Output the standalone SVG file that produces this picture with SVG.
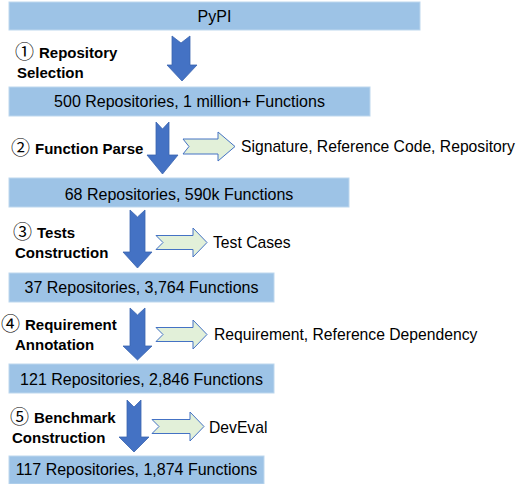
<svg xmlns="http://www.w3.org/2000/svg" width="526" height="484" viewBox="0 0 526 484">
<style>
.box{fill:#9DC3E6;stroke:#BDD7EE;stroke-width:1}
.bt{font-family:"Liberation Sans",Arial,sans-serif;font-size:16px;fill:#000;text-anchor:middle}
.t{font-family:"Liberation Sans",Arial,sans-serif;font-size:15.7px;fill:#000}
.lb{font-family:"Liberation Sans","DejaVu Sans",sans-serif;font-size:15px;font-weight:bold;fill:#000}
.c{font-family:"Noto Sans CJK SC","Noto Sans CJK JP",sans-serif;font-weight:normal;font-size:19px}
.down{fill:#4472C4;stroke:#3A64B0;stroke-width:0.8}
.right{fill:#E2F0D9;stroke:#4472C4;stroke-width:1}
</style>
<rect width="526" height="484" fill="#fff"/>
<g id="n-pypi"><rect class="box" x="9" y="2" width="411" height="28"/><text class="bt" x="214.5" y="22">PyPI</text></g>
<g id="n-500"><rect class="box" x="9" y="87" width="361" height="29"/><text class="bt" x="189.5" y="107">500 Repositories, 1 million+ Functions</text></g>
<g id="n-68"><rect class="box" x="9" y="178" width="340" height="29"/><text class="bt" x="179" y="200">68 Repositories, 590k Functions</text></g>
<g id="n-37"><rect class="box" x="9" y="273" width="265" height="29"/><text class="bt" x="141.5" y="293">37 Repositories, 3,764 Functions</text></g>
<g id="n-121"><rect class="box" x="9" y="364" width="265" height="29"/><text class="bt" x="141.5" y="385">121 Repositories, 2,846 Functions</text></g>
<g id="n-117"><rect class="box" x="9" y="456" width="255" height="28"/><text class="bt" x="136.5" y="475">117 Repositories, 1,874 Functions</text></g>
<g id="labels">
<text class="lb" x="15" y="59"><tspan class="c">①</tspan><tspan x="39" y="58">Repository</tspan></text>
<text class="lb" x="17" y="78">Selection</text>
<text class="lb" x="11" y="155"><tspan class="c">②</tspan><tspan x="35" y="154">Function Parse</tspan></text>
<text class="lb" x="13" y="239"><tspan class="c">③</tspan><tspan x="37" y="238">Tests</tspan></text>
<text class="lb" x="15" y="258">Construction</text>
<text class="lb" x="1" y="331"><tspan class="c">④</tspan><tspan x="25" y="330">Requirement</tspan></text>
<text class="lb" x="15" y="350">Annotation</text>
<text class="lb" x="10" y="424"><tspan class="c">⑤</tspan><tspan x="34" y="423">Benchmark</tspan></text>
<text class="lb" x="12" y="443">Construction</text>
</g>
<g id="outputs">
<text class="t" x="241" y="152">Signature, Reference Code, Repository</text>
<text class="t" x="213" y="248">Test Cases</text>
<text class="t" x="214" y="340">Requirement, Reference Dependency</text>
<text class="t" x="209" y="433">DevEval</text>
</g>
<g id="connectors">
<path class="down" d="M172,36 L181,43 L190,36 L190,65 L197,65 L182,81 L167,65 L172,65 Z"/>
<path class="down" d="M156,122 L162.5,129 L169,122 L169,155 L178,155 L162.5,174 L147,155 L156,155 Z"/>
<path class="down" d="M130,210 L137.5,217 L145,210 L145,252 L152,252 L137.5,268 L123,252 L130,252 Z"/>
<path class="down" d="M130,308 L137.5,315 L145,308 L145,346 L152,346 L137.5,360 L123,346 L130,346 Z"/>
<path class="down" d="M127,400 L134,407 L141,400 L141,437 L149,437 L134,452 L119,437 L127,437 Z"/>
<path class="right" d="M183,139 L218,139 L218,132 L235,146.5 L218,161 L218,154 L183,154 L189,146.5 Z"/>
<path class="right" d="M156,235.5 L193,235.5 L193,228 L207,242.5 L193,257 L193,249.5 L156,249.5 L163,242.5 Z"/>
<path class="right" d="M156,327.5 L193,327.5 L193,320 L207,334.5 L193,349 L193,341.5 L156,341.5 L163,334.5 Z"/>
<path class="right" d="M152,419.5 L190,419.5 L190,412 L204,426.5 L190,441 L190,433.5 L152,433.5 L159,426.5 Z"/>
</g>
</svg>
